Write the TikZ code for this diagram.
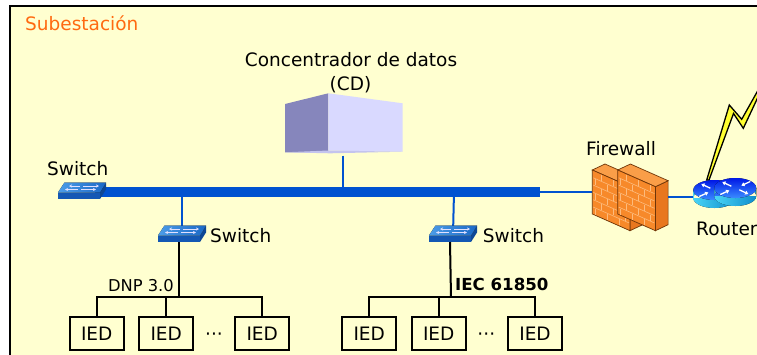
\documentclass[tikz,border=0pt]{standalone}
\usepackage{fontspec}
\setmainfont{DejaVu Sans}
\usetikzlibrary{arrows.meta}

\definecolor{bgyellow}{HTML}{FFFFD0}
\definecolor{netblue}{HTML}{0052D0}
\definecolor{titleorange}{HTML}{FF6A10}
\definecolor{cddark}{HTML}{8686BC}
\definecolor{cdlight}{HTML}{D9D9FF}
\definecolor{swtopL}{HTML}{4C9DE8}
\definecolor{swtopR}{HTML}{1A68C6}
\definecolor{swfront}{HTML}{1458B4}
\definecolor{swside}{HTML}{0D4796}
\definecolor{wallfront}{HTML}{F7892A}
\definecolor{wallside}{HTML}{E8771F}
\definecolor{walltop}{HTML}{FA9E48}
\definecolor{wallline}{HTML}{6E3508}
\definecolor{brick}{HTML}{FDBB7C}
\definecolor{rttopA}{HTML}{0018E6}
\definecolor{rttopB}{HTML}{3A8CFF}
\definecolor{rtsideA}{HTML}{48D4F6}
\definecolor{rtsideB}{HTML}{0E8CCC}
\definecolor{boltyellow}{HTML}{FFFF30}

\tikzset{
  lbl/.style={inner sep=0pt, font=\fontsize{18.5}{22}\selectfont},
  smalllbl/.style={inner sep=0pt, font=\fontsize{16.3}{20}\selectfont},
  boldlbl/.style={inner sep=0pt, font=\fontsize{16.6}{20}\selectfont\bfseries},
  ied/.style={draw, line width=1.6pt, minimum width=54pt, minimum height=33pt,
    inner sep=0pt, fill=bgyellow, font=\fontsize{18.5}{22}\selectfont},
  buslink/.style={line width=10pt, netblue, line cap=butt},
  link/.style={line width=2pt, netblue},
  wire/.style={line width=2pt, black},
  % network switch icon, centred on its top face
  switchicon/.pic={
    \fill[swfront] (-24,1.5) -- (18,1.5) -- (18,8) -- (-24,8) -- cycle;
    \fill[swside] (18,1.5) -- (24,-8.5) -- (24,-1.5) -- (18,8) -- cycle;
    \fill[left color=swtopL, right color=swtopR]
      (-17.5,-8.5) -- (24,-8.5) -- (18,1.5) -- (-24,1.5) -- cycle;
    \begin{scope}[white!88!blue, line width=0.9pt]
      \draw[-{Stealth[length=3pt,width=3pt]}] (1,-5) -- (17,-5);
      \draw[-{Stealth[length=3pt,width=3pt]}] (-2,-5) -- (-13,-5);
      \draw[-{Stealth[length=3pt,width=3pt]}] (-1,-1.5) -- (14,-1.5);
      \draw[-{Stealth[length=3pt,width=3pt]}] (-4,-1.5) -- (-17,-1.5);
    \end{scope}
    \coordinate (-top) at (0,-8.5);
    \coordinate (-bot) at (-3,8);
  },
  % brick wall, origin at the top-left corner of its front face
  brickwall/.pic={
    \filldraw[fill=wallside, draw=wallline, line width=0.7pt]
      (37.7,16.7) -- (50.4,10.7) -- (50.4,54.7) -- (37.7,60.7) -- cycle;
    \filldraw[fill=walltop, draw=wallline, line width=0.7pt]
      (0,0) -- (12.7,-6) -- (50.4,10.7) -- (37.7,16.7) -- cycle;
    \filldraw[fill=wallfront, draw=wallline, line width=0.7pt]
      (0,0) -- (37.7,16.7) -- (37.7,60.7) -- (0,44) -- cycle;
    \begin{scope}[yslant=-0.443, brick, line width=0.6pt]
      \foreach \r in {1,...,5} { \draw (1,\r*7.33) -- (36.7,\r*7.33); }
      \foreach \r in {0,2,4} {
        \foreach \u in {9,21,33} { \draw (\u,\r*7.33+0.6) -- (\u,\r*7.33+6.7); } }
      \foreach \r in {1,3,5} {
        \foreach \u in {3,15,27} { \draw (\u,\r*7.33+0.6) -- (\u,\r*7.33+6.7); } }
    \end{scope}
    \coordinate (-west) at (0,22);
    \coordinate (-east) at (50.4,27);
  },
  % router drum, origin at the centre of its top face
  routercyl/.pic={
    \fill[left color=rtsideA, right color=rtsideB]
      (0,8) ellipse [x radius=21, y radius=10] (-21,0) rectangle (21,8);
    \fill[top color=rttopA, bottom color=rttopB] (0,0) ellipse [x radius=21, y radius=10];
    \begin{scope}[white, line width=1.3pt]
      \draw[-{Triangle[length=3.2pt,width=4pt]}] (-4,-1.8) -- (-13,-6);
      \draw[-{Triangle[length=3.2pt,width=4pt]}] (4,1.8) -- (13,6);
      \draw[-{Triangle[length=3.2pt,width=4pt]}] (15,-6.5) -- (6,-2.4);
      \draw[-{Triangle[length=3.2pt,width=4pt]}] (-15,6.5) -- (-6,2.4);
    \end{scope}
    \coordinate (-west) at (-21,7);
  }
}

\begin{document}
\begin{tikzpicture}[x=1pt, y=-1pt]
\useasboundingbox (0,0) rectangle (757,354);
\clip (0,0) rectangle (757,354);
\fill[white] (0,0) rectangle (757,354);

% substation frame
\fill[bgyellow] (10,6) rectangle (800,400);
\draw[line width=2pt] (10,400) -- (10,6) -- (800,6);
\node[lbl, text=titleorange, anchor=base west] (title) at (25,30.5) {Subestación};

% data concentrator
\node[lbl, anchor=base] (cdname) at (351,66.5) {Concentrador de datos};
\node[lbl, anchor=base] (cdabbr) at (350.5,90.5) {(CD)};
\fill[cddark] (285,104) -- (328.3,93.3) -- (328.3,152.3) -- (285,152.3) -- cycle;
\fill[cdlight] (328.3,93.3) -- (402.7,103.3) -- (402.7,151.7) -- (328.3,150.5) -- cycle;
\fill[cdlight!75!cddark] (285,152.3) -- (328.3,150.5) -- (402.7,151.7) -- (330,153.3) -- cycle;
\coordinate (cdbot) at (343,155.5);

% station bus
\coordinate (busL) at (95,192);
\coordinate (busR) at (540,192);
\coordinate (busCD) at (343,192);
\coordinate (busB) at (182,192);
\coordinate (busC) at (454,192);

% switches
\coordinate (swApos) at (82,191);
\coordinate (swBpos) at (182,234);
\coordinate (swCpos) at (453,234);

% firewall and router anchors
\coordinate (fw1pos) at (592.3,170);
\coordinate (fw2pos) at (617.7,170);
\coordinate (rt1pos) at (714.3,190);
\coordinate (rt2pos) at (735.3,188);

% connectors under the icons
\draw[link] (cdbot) -- (busCD);
\draw[link] (busB) -- (swBpos);
\draw[link] (busC) -- (swCpos);
\draw[link] (busR) -- (592.3,192) coordinate (fwin);
\draw[buslink] (busL) -- (busR);

\pic (swA) at (swApos) {switchicon};
\pic (swB) at (swBpos) {switchicon};
\pic (swC) at (swCpos) {switchicon};
\node[lbl, anchor=base west] (swAlbl) at (47,175) {Switch};
\node[lbl, anchor=base west] (swBlbl) at (210,242.3) {Switch};
\node[lbl, anchor=base west] (swClbl) at (482.7,242.3) {Switch};

% firewall
\node[lbl, anchor=base west] (fwlbl) at (586,155.7) {Firewall};
\pic (fw1) at (fw1pos) {brickwall};
\pic (fw2) at (fw2pos) {brickwall};

% lightning bolt (radio link)
\filldraw[fill=boltyellow, draw=black, line width=1.3pt, line join=miter]
  (706.7,180) -- (729.3,105) -- (741.7,119.3) -- (766,76) --
  (766,80) -- (743.3,128.3) -- (733.5,113.5) -- (709,180) -- cycle;

% router
\draw[link] (fw2-east) -- (693.3,197) coordinate (rtin);
\pic (rt1) at (rt1pos) {routercyl};
\pic (rt2) at (rt2pos) {routercyl};
\node[lbl, anchor=base west] (rtlbl) at (696,235) {Router};

% DNP 3.0 branch
\node[ied] (ied1) at (96.7,333.3) {IED};
\node[ied] (ied2) at (166.2,333.3) {IED};
\node[ied] (ied3) at (262.2,333.3) {IED};
\node[lbl, anchor=base] (dotsL) at (214,340) {···};
\coordinate (jB) at (179,297);
\draw[wire] (swB-bot) -- (jB);
\draw[wire] (ied1.north) |- (ied3.north |- jB) -- (ied3.north);
\draw[wire] (ied2.north) -- (ied2.north |- jB);
\node[smalllbl, anchor=base east] (dnp) at (174,291) {DNP 3.0};

% IEC 61850 branch
\node[ied] (ied4) at (369.2,333.3) {IED};
\node[ied] (ied5) at (438.7,333.3) {IED};
\node[ied] (ied6) at (535,333.3) {IED};
\node[lbl, anchor=base] (dotsR) at (486.3,340) {···};
\coordinate (jC) at (451,297);
\draw[wire] (swC-bot) -- (jC);
\draw[wire] (ied4.north) |- (ied6.north |- jC) -- (ied6.north);
\draw[wire] (ied5.north) -- (ied5.north |- jC);
\node[boldlbl, anchor=base west] (iec) at (455,290) {IEC 61850};
\end{tikzpicture}
\end{document}
